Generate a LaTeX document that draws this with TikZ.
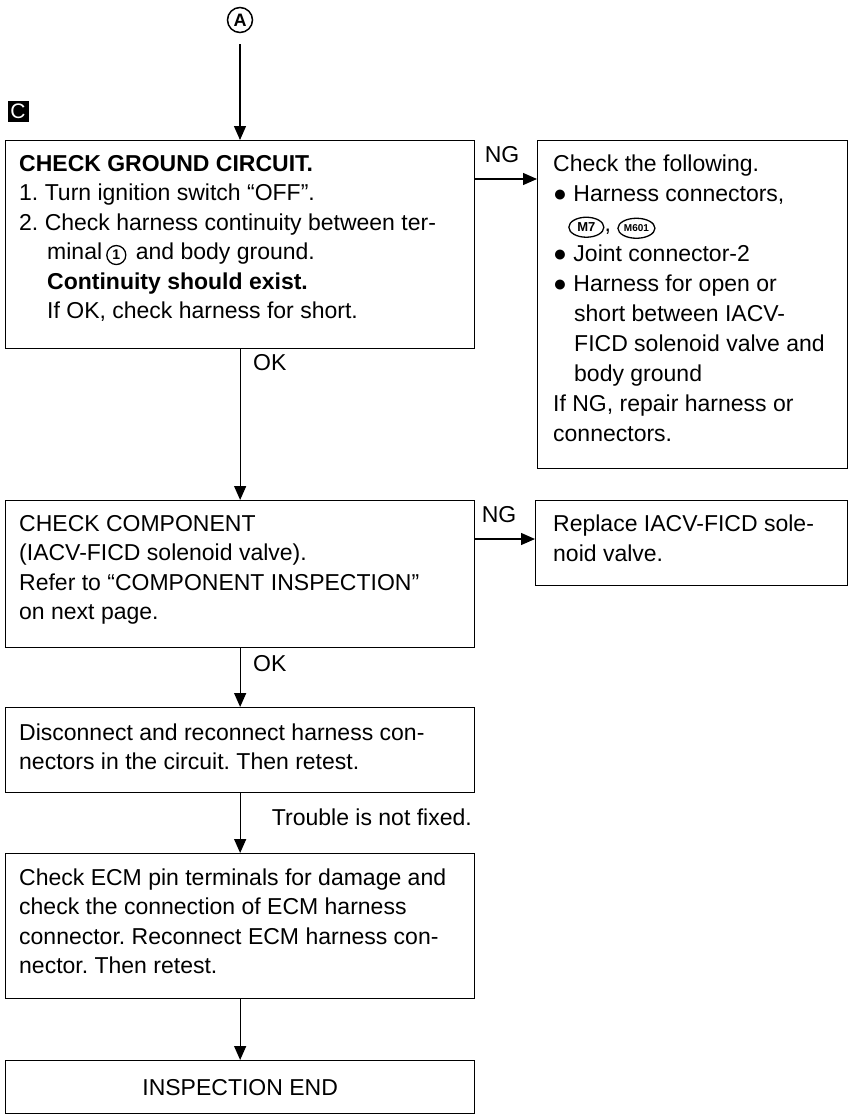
\documentclass[tikz,border=0pt]{standalone}
\usepackage{fontspec}
\setmainfont{Liberation Sans}
\frenchspacing
\usetikzlibrary{arrows.meta,shapes.geometric}
\tikzset{
  box/.style={draw, line width=1.3pt, rectangle, inner sep=0pt, anchor=north west},
  txt/.style={anchor=north west, inner sep=0pt, align=left, font=\fontsize{23}{29.5}\selectfont},
  txtw/.style={anchor=north west, inner sep=0pt, align=left, font=\fontsize{23}{30}\selectfont},
  lbl/.style={inner sep=0pt, font=\fontsize{23}{29.5}\selectfont},
  arr/.style={line width=1.3pt, -{Triangle[length=14pt,width=12pt]}},
}
\newcommand\ovalmark[4]{\tikz[baseline=(#3.base)]\node[ellipse, draw, line width=1.3pt, inner sep=0pt, anchor=center, minimum width=#2, minimum height=20pt, font=\bfseries\fontsize{#4}{#4}\selectfont, align=center] (#3) {#1};}
\newcommand\circmark[2]{\tikz[baseline=(#2.base)]\node[circle, draw, line width=1.3pt, inner sep=0pt, anchor=center, minimum size=19pt, font=\bfseries\fontsize{14}{14}\selectfont, align=center] (#2) {#1};}
\begin{document}
\begin{tikzpicture}[x=1pt, y=-1pt]
\useasboundingbox (0,0) rectangle (849,1114);
% start marks
\node[circle, draw, line width=1.5pt, minimum size=25pt, inner sep=0pt, font=\bfseries\fontsize{18}{18}\selectfont] (A) at (240,20) {A};
\node[fill=black, text=white, minimum width=21pt, minimum height=21pt, inner sep=0pt, font=\fontsize{21}{21}\selectfont] (C) at (18,111.5) {C};
% boxes
\node[box, minimum width=469pt, minimum height=208pt] (b1) at (5,140) {};
\node[box, minimum width=310pt, minimum height=328pt] (r1) at (537,140) {};
\node[box, minimum width=469pt, minimum height=147pt] (b2) at (5,500) {};
\node[box, minimum width=312pt, minimum height=85pt] (r2) at (535,500) {};
\node[box, minimum width=469pt, minimum height=85pt] (b3) at (5,707) {};
\node[box, minimum width=469pt, minimum height=145pt] (b4) at (5,853) {};
\node[box, minimum width=469pt, minimum height=53pt, font=\fontsize{23}{29.5}\selectfont] (b5) at (5,1060) {INSPECTION END};
% texts
\node[txt] (t1) at (19,150.5) {\strut\textbf{CHECK GROUND CIRCUIT.}\\
1. Turn ignition switch “OFF”.\\
2. Check harness continuity between ter-\\
\hspace*{28pt}minal\hspace{4pt}\circmark{1}{c1}\hspace{3pt} and body ground.\\
\hspace*{28pt}\textbf{Continuity should exist.}\\
\hspace*{28pt}If OK, check harness for short.};
\node[txtw] (tr1) at (553,150.5) {\strut Check the following.\\
● Harness connectors,\\
\hspace*{15pt}\ovalmark{M7}{35pt}{o1}{13}, \ovalmark{M601}{37pt}{o2}{10}\\
● Joint connector-2\\
● Harness for open or\\
\hspace*{21pt}short between IACV-\\
\hspace*{21pt}FICD solenoid valve and\\
\hspace*{21pt}body ground\\
If NG, repair harness or\\
connectors.};
\node[txt] (t2) at (19,510.5) {\strut CHECK COMPONENT\\
(IACV-FICD solenoid valve).\\
Refer to “COMPONENT INSPECTION”\\
on next page.};
\node[txtw] (tr2) at (553,510.5) {\strut Replace IACV-FICD sole-\\
noid valve.};
\node[txt] (t3) at (19,719.5) {\strut Disconnect and reconnect harness con-\\
nectors in the circuit. Then retest.};
\node[txt] (t4) at (19,864.5) {\strut Check ECM pin terminals for damage and\\
check the connection of ECM harness\\
connector. Reconnect ECM harness con-\\
nector. Then retest.};
% labels
\node[lbl] (ng1) at (502,155) {NG};
\node[lbl] (ng2) at (499,515) {NG};
\node[lbl, anchor=west] (ok1) at (253,363) {OK};
\node[lbl, anchor=west] (ok2) at (253,664) {OK};
\node[lbl, anchor=east] (tr) at (472,817) {Trouble is not fixed.};
% connectors
\coordinate (y1) at (0,179);
\coordinate (y2) at (0,539);
\draw[arr, shorten <=11pt] (A) -- (A |- b1.north);
\draw[arr] (b1.east |- y1) -- (r1.west |- y1);
\draw[arr] (b1.south) -- (b2.north);
\draw[arr] (b2.east |- y2) -- (r2.west |- y2);
\draw[arr] (b2.south) -- (b3.north);
\draw[arr] (b3.south) -- (b4.north);
\draw[arr] (b4.south) -- (b5.north);
\end{tikzpicture}
\end{document}
